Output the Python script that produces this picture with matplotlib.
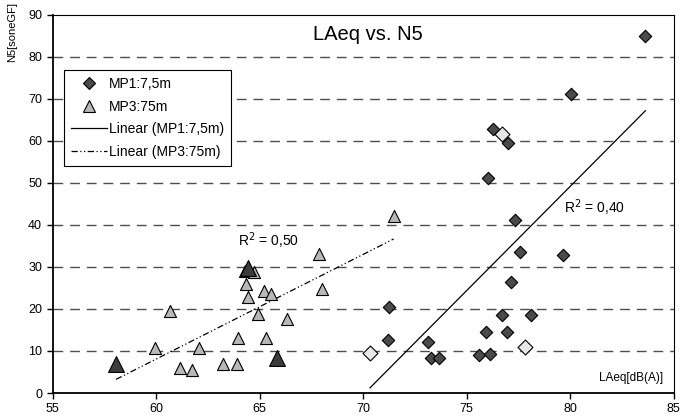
import numpy as np
import matplotlib
matplotlib.use("Agg")
import matplotlib.pyplot as plt
from matplotlib.lines import Line2D

plt.rcParams['font.family'] = ['Liberation Sans', 'DejaVu Sans']

# MP1:7,5m (diamonds)
mp1_x = [83.64, 80.05, 76.3, 77.0, 76.05, 77.34, 77.6, 79.66, 77.15, 76.7, 78.1,
         75.93, 76.97, 75.62, 76.13, 71.26, 71.2, 73.15, 73.27, 73.69]
mp1_y = [84.8, 71.1, 62.8, 59.4, 51.1, 41.2, 33.5, 32.8, 26.3, 18.6, 18.6,
         14.4, 14.4, 9.1, 9.3, 20.4, 12.7, 12.1, 8.3, 8.3]
# MP1 highlighted points (light)
mp1h_x = [76.7, 77.83, 70.34]
mp1h_y = [61.7, 11.0, 9.45]

# MP3:75m (triangles)
mp3_x = [59.95, 60.69, 61.16, 61.72, 62.06, 63.24, 63.91, 63.95, 64.33, 64.43,
         64.3, 64.75, 64.91, 65.23, 65.54, 65.31, 66.34, 67.87, 68.0, 71.48]
mp3_y = [10.8, 19.4, 6.0, 5.5, 10.8, 6.9, 6.9, 13.0, 26.0, 22.8,
         28.9, 28.7, 18.7, 24.3, 23.6, 13.0, 17.5, 33.1, 24.8, 42.2]
# MP3 highlighted points (dark)
mp3h_x = [58.07, 64.43, 65.83]
mp3h_y = [6.8, 29.7, 8.4]

xticks = [55, 60, 65, 70, 75, 80, 85]
yticks = [0, 10, 20, 30, 40, 50, 60, 70, 80, 90]

fig = plt.figure(figsize=(6.81, 4.16), dpi=100)
ax = fig.add_axes([52.5/681, 1-393/416, (673.5-52.5)/681, (393-14.5)/416])
ax.set_xlim(55, 85)
ax.set_ylim(0, 90)
ax.set_xticks(xticks)
ax.set_yticks(yticks)
ax.tick_params(labelsize=9, direction='out', length=4, width=1)

for yv in yticks[1:-1]:
    ax.axhline(yv, color='#4d4d4d', lw=1.0, dashes=(7, 5), zorder=1)

for s in ['top', 'right']:
    ax.spines[s].set_linewidth(0.8)
for s in ['left', 'bottom']:
    ax.spines[s].set_linewidth(1.3)

# trend lines
a1x = np.array(mp1_x + mp1h_x); a1y = np.array(mp1_y + mp1h_y)
a3x = np.array(mp3_x + mp3h_x); a3y = np.array(mp3_y + mp3h_y)
p1 = np.polyfit(a1x, a1y, 1)
p3 = np.polyfit(a3x, a3y, 1)
xx1 = np.array([a1x.min(), a1x.max()])
xx3 = np.array([a3x.min(), a3x.max()])
ax.plot(xx1, np.polyval(p1, xx1), color='black', lw=0.9, zorder=2)
ax.plot(xx3, np.polyval(p3, xx3), color='black', lw=0.9, dashes=(5, 2, 1, 2, 1, 2), zorder=2)

ax.scatter(mp1_x, mp1_y, marker='D', s=40, c='#4a4a4a', edgecolors='black', linewidths=0.8, zorder=3)
ax.scatter(mp1h_x, mp1h_y, marker='D', s=58, c='#e6e6e6', edgecolors='black', linewidths=0.8, zorder=3)
ax.scatter(mp3_x, mp3_y, marker='^', s=75, c='#b8b8b8', edgecolors='black', linewidths=0.8, zorder=3)
ax.scatter(mp3h_x, mp3h_y, marker='^', s=130, c='#3c3c3c', edgecolors='black', linewidths=0.8, zorder=4)

ax.text(0.508, 0.947, 'LAeq vs. N5', transform=ax.transAxes, fontsize=14.5,
        ha='center', va='center')
ax.text(65.45, 36.2, 'R$^2$ = 0,50', fontsize=10, ha='center', va='center')
ax.text(81.2, 44.0, 'R$^2$ = 0,40', fontsize=10, ha='center', va='center')
ax.text(0.984, 0.04, 'LAeq[dB(A)]', transform=ax.transAxes, fontsize=8.5,
        ha='right', va='center')
fig.text(12/681, 1-32/416, 'N5[soneGF]', rotation=90, fontsize=8,
         ha='center', va='center')

handles = [
    Line2D([], [], marker='D', ls='none', ms=6, mfc='#4a4a4a', mec='black', mew=0.8),
    Line2D([], [], marker='^', ls='none', ms=8, mfc='#b8b8b8', mec='black', mew=0.8),
    Line2D([], [], color='black', lw=0.9),
    Line2D([], [], color='black', lw=0.9, dashes=(5, 2, 1, 2, 1, 2)),
]
labels = ['MP1:7,5m', 'MP3:75m', 'Linear (MP1:7,5m)', 'Linear (MP3:75m)']
leg = ax.legend(handles, labels, loc='upper left', bbox_to_anchor=(64/681, 1-70/416),
                bbox_transform=fig.transFigure, fontsize=10, frameon=True, fancybox=False,
                edgecolor='black', framealpha=1, borderpad=0.5, handlelength=2.6,
                handletextpad=0.15, labelspacing=0.62, borderaxespad=0)
leg.get_frame().set_linewidth(0.8)

fig.savefig('out.png', dpi=100)
